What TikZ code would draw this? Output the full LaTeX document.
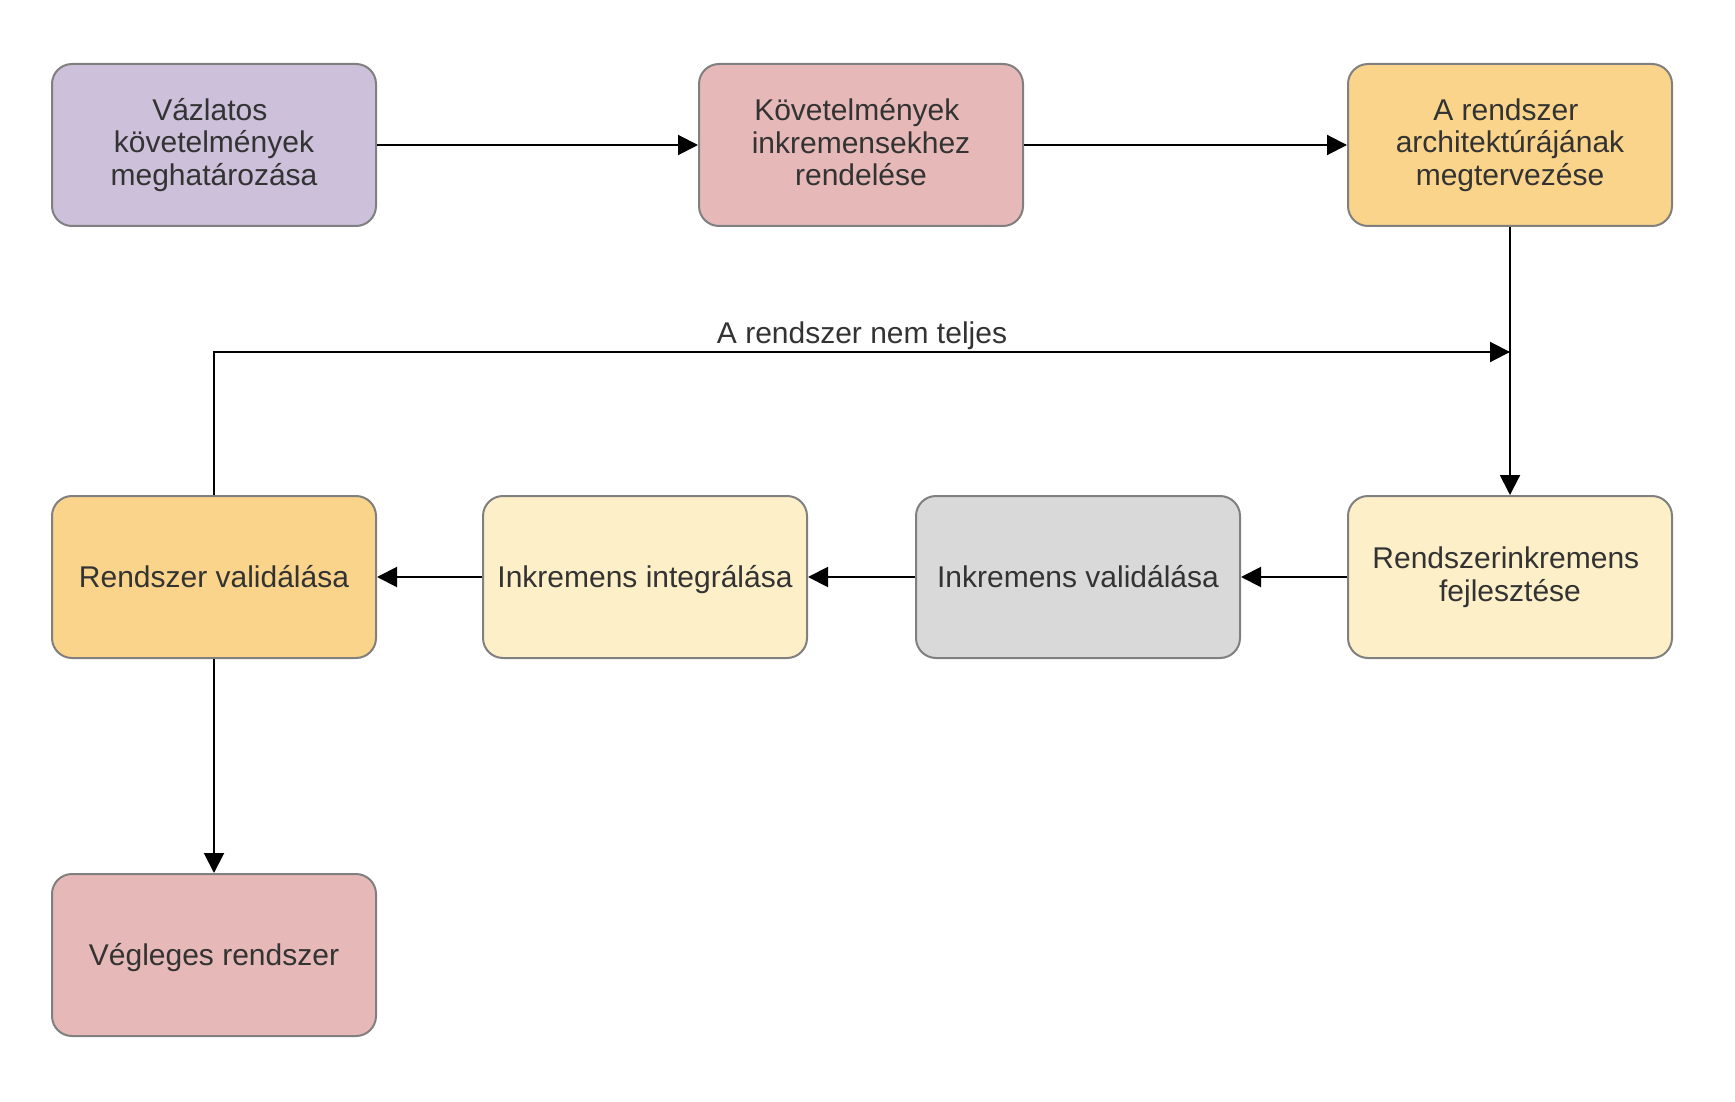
\documentclass[tikz,border=0pt]{standalone}
\usepackage{fontspec}
\setmainfont{Liberation Sans}
\usetikzlibrary{arrows.meta}
\definecolor{boxline}{HTML}{808080}
\definecolor{txt}{HTML}{333333}
\definecolor{lilac}{HTML}{CCC0DA}
\definecolor{rose}{HTML}{E6B9B8}
\definecolor{amber}{HTML}{FAD48A}
\definecolor{cream}{HTML}{FDEFC8}
\definecolor{silver}{HTML}{D9D9D9}
% trailing word space kept at the end of a wrapped line
\newcommand{\wrapsp}{\hspace*{0.278em}}
\begin{document}
\begin{tikzpicture}[x=1pt,y=-1pt,
  box/.style={draw=boxline, line width=2pt, rounded corners=20pt,
    minimum width=324pt, minimum height=162pt, inner sep=0pt,
    align=center, text=txt, font=\fontsize{30}{32.5}\selectfont,
    execute at begin node={\rule{0pt}{26.8pt}},
    execute at end node={\rule[-6pt]{0pt}{6pt}}},
  conn/.style={line width=2pt, -{Triangle[length=20pt,width=20pt]}},
  lbl/.style={text=txt, font=\fontsize{30}{32.5}\selectfont, inner sep=0pt}]
\useasboundingbox[fill=white] (0,0) rectangle (1735,1102);

% top row
\node[box, fill=lilac] (draft) at (214,145) {Vázlatos\wrapsp\\követelmények\wrapsp\\meghatározása};
\node[box, fill=rose]  (assign) at (861,145) {Követelmények\wrapsp\\inkremensekhez\wrapsp\\rendelése};
\node[box, fill=amber] (arch) at (1510,145) {A rendszer\wrapsp\\architektúrájának\wrapsp\\megtervezése};

% middle row
\node[box, fill=amber]  (sysval) at (214,577) {Rendszer validálása};
\node[box, fill=cream]  (integ)  at (645,577) {Inkremens integrálása};
\node[box, fill=silver] (incval) at (1078,577) {Inkremens validálása};
\node[box, fill=cream]  (dev)    at (1510,577) {Rendszerinkremens\wrapsp\\fejlesztése};

% bottom row
\node[box, fill=rose] (final) at (214,955) {Végleges rendszer};

% main flow
\draw[conn] (draft.east) -- (assign.west);
\draw[conn] (assign.east) -- (arch.west);
\draw[conn] (arch.south) -- (dev.north);
\draw[conn] (dev.west) -- (incval.east);
\draw[conn] (incval.west) -- (integ.east);
\draw[conn] (integ.west) -- (sysval.east);
\draw[conn] (sysval.south) -- (final.north);

% feedback loop back into the development line
\coordinate (join) at (1510,352);
\draw[conn] (sysval.north) |- (join);
\node[lbl, anchor=base] (loopnote) at (862,343) {A rendszer nem teljes};
\end{tikzpicture}
\end{document}
